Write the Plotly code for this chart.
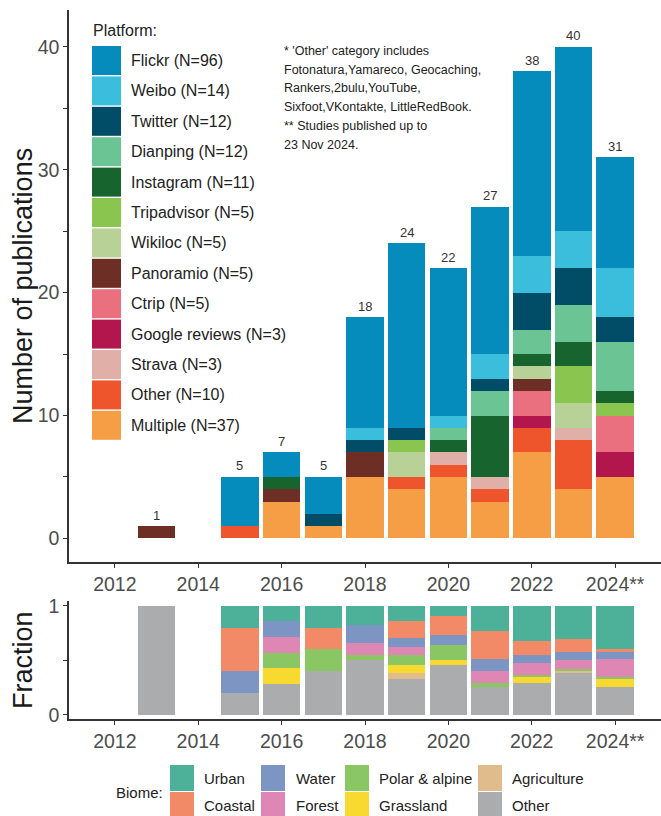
import plotly.graph_objects as go

W, H = 661, 816
FONT = "Liberation Sans, Arial, Helvetica, sans-serif"

# ---------------- data ----------------
years = [2012, 2013, 2014, 2015, 2016, 2017, 2018, 2019, 2020, 2021, 2022, 2023, 2024]
tick_years = [2012, 2014, 2016, 2018, 2020, 2022, 2024]
tick_labels = ["2012", "2014", "2016", "2018", "2020", "2022", "2024**"]

# publications per platform and year (2012..2024)
flickr      = [0, 0, 0, 4, 2, 3, 9, 15, 12, 12, 15, 15, 9]
weibo       = [0, 0, 0, 0, 0, 0, 1, 0, 1, 2, 3, 3, 4]
twitter     = [0, 0, 0, 0, 0, 1, 1, 1, 0, 1, 3, 3, 2]
dianping    = [0, 0, 0, 0, 0, 0, 0, 0, 1, 2, 2, 3, 4]
instagram   = [0, 0, 0, 0, 1, 0, 0, 0, 1, 5, 1, 2, 1]
tripadvisor = [0, 0, 0, 0, 0, 0, 0, 1, 0, 0, 0, 3, 1]
wikiloc     = [0, 0, 0, 0, 0, 0, 0, 2, 0, 0, 1, 2, 0]
panoramio   = [0, 1, 0, 0, 1, 0, 2, 0, 0, 0, 1, 0, 0]
ctrip       = [0, 0, 0, 0, 0, 0, 0, 0, 0, 0, 2, 0, 3]
google_rev  = [0, 0, 0, 0, 0, 0, 0, 0, 0, 0, 1, 0, 2]
strava      = [0, 0, 0, 0, 0, 0, 0, 0, 1, 1, 0, 1, 0]
other_pf    = [0, 0, 0, 1, 0, 0, 0, 1, 1, 1, 2, 4, 0]
multiple    = [0, 0, 0, 0, 3, 1, 5, 4, 5, 3, 7, 4, 5]

platform_names = ["Flickr (N=96)", "Weibo (N=14)", "Twitter (N=12)", "Dianping (N=12)",
                  "Instagram (N=11)", "Tripadvisor (N=5)", "Wikiloc (N=5)", "Panoramio (N=5)",
                  "Ctrip (N=5)", "Google reviews (N=3)", "Strava (N=3)", "Other (N=10)",
                  "Multiple (N=37)"]
platform_values = [flickr, weibo, twitter, dianping, instagram, tripadvisor, wikiloc,
                   panoramio, ctrip, google_rev, strava, other_pf, multiple]
platform_colors = ["#068CBC", "#3ABEDC", "#014D67", "#6BC494", "#17642E", "#8AC54F",
                   "#B8D197", "#6C2E25", "#EA6F7F", "#B3164D", "#E0B0A8", "#EE552D",
                   "#F59E45"]

# biome fractions per year (2012..2024)
urban       = [0, 0, 0, 0.20, 0.143, 0.20, 0.175, 0.14, 0.09, 0.23, 0.32, 0.305, 0.395]
coastal     = [0, 0, 0, 0.40, 0.0, 0.20, 0.0, 0.155, 0.18, 0.26, 0.13, 0.12, 0.025]
water       = [0, 0, 0, 0.20, 0.143, 0.0, 0.165, 0.08, 0.09, 0.11, 0.075, 0.075, 0.065]
forest      = [0, 0, 0, 0.0, 0.143, 0.0, 0.11, 0.08, 0.0, 0.11, 0.11, 0.08, 0.165]
polar       = [0, 0, 0, 0.0, 0.143, 0.20, 0.05, 0.085, 0.14, 0.03, 0.02, 0.02, 0.025]
grassland   = [0, 0, 0, 0.0, 0.142, 0.0, 0.0, 0.08, 0.045, 0.0, 0.055, 0.0, 0.065]
agriculture = [0, 0, 0, 0.0, 0.0, 0.0, 0.0, 0.05, 0.0, 0.0, 0.0, 0.02, 0.0]
other_bio   = [0, 1.0, 0, 0.20, 0.286, 0.40, 0.50, 0.33, 0.455, 0.26, 0.29, 0.38, 0.26]

biome_names = ["Urban", "Coastal", "Water", "Forest", "Polar & alpine", "Grassland",
               "Agriculture", "Other"]
biome_values = [urban, coastal, water, forest, polar, grassland, agriculture, other_bio]
biome_colors = ["#4DB098", "#F28A68", "#7C95C2", "#DE87B5", "#8AC663", "#F8D92F",
                "#E0BC8C", "#ABACAE"]

note_lines = ["* 'Other' category includes",
              "Fotonatura,Yamareco, Geocaching,",
              "Rankers,2bulu,YouTube,",
              "Sixfoot,VKontakte, LittleRedBook.",
              "** Studies published up to",
              "23 Nov 2024."]

# ---------------- figure ----------------
fig = go.Figure()

# top: stacked counts (bottom of stack = last legend entry)
for name, vals, col in reversed(list(zip(platform_names, platform_values, platform_colors))):
    fig.add_trace(go.Bar(x=years, y=vals, name=name, marker_color=col,
                         marker_line_width=0, width=0.9, showlegend=False,
                         xaxis="x", yaxis="y"))

# bottom: biome fractions (bottom of stack = Other)
for name, vals, col in reversed(list(zip(biome_names, biome_values, biome_colors))):
    fig.add_trace(go.Bar(x=years, y=vals, name=name, marker_color=col,
                         marker_line_width=0, width=0.9, showlegend=False,
                         xaxis="x2", yaxis="y2"))

totals = [sum(v[i] for v in platform_values) for i in range(len(years))]


def px(x):
    return x / W


def py(y):
    return 1 - y / H


axis_common = dict(showline=True, linecolor="#333333", linewidth=1.5, ticks="outside",
                   ticklen=4, tickwidth=1.3, tickcolor="#333333", showgrid=False,
                   zeroline=False, automargin=False,
                   tickfont=dict(size=19.5, color="#4D4D4D", family=FONT))

TOP_T, TOP_B = 10, 562
BOT_T, BOT_B = 601, 719
x_range = [2010.9, 2025.1]
fig.update_layout(
    width=W, height=H, margin=dict(l=0, r=0, t=0, b=0, pad=0, autoexpand=False),
    plot_bgcolor="white", paper_bgcolor="white", barmode="stack", showlegend=False,
    font=dict(family=FONT),
    xaxis=dict(domain=[px(69), 1], range=x_range, tickvals=tick_years,
               ticktext=tick_labels, anchor="y", **axis_common),
    yaxis=dict(domain=[py(TOP_B), py(TOP_T)], range=[-1.92, 43.0],
               tickvals=[0, 5, 10, 15, 20, 25, 30, 35, 40],
               ticktext=["0", "", "10", "", "20", "", "30", "", "40"],
               anchor="x", **axis_common),
    xaxis2=dict(domain=[px(69), 1], range=x_range, tickvals=tick_years,
                ticktext=tick_labels, anchor="y2", **axis_common),
    yaxis2=dict(domain=[py(BOT_B), py(BOT_T)], range=[-0.037, 1.043],
                tickvals=[0, 0.5, 1], ticktext=["0", "", "1"], anchor="x2",
                **axis_common),
)

shapes = []
annotations = []

# bar total labels
for yr, t in zip(years, totals):
    if t > 0:
        annotations.append(dict(x=yr, y=t, xref="x", yref="y", text=str(t),
                                showarrow=False, xanchor="center", yanchor="middle",
                                yshift=11,
                                font=dict(size=13, color="#333333", family=FONT)))

# axis titles
annotations.append(dict(x=px(23), y=py((TOP_T + TOP_B) / 2), xref="paper", yref="paper",
                        text="Number of publications", textangle=-90, showarrow=False,
                        xanchor="center", yanchor="middle",
                        font=dict(size=27, color="#1A1A1A", family=FONT)))
annotations.append(dict(x=px(23), y=py((BOT_T + BOT_B) / 2), xref="paper", yref="paper",
                        text="Fraction", textangle=-90, showarrow=False,
                        xanchor="center", yanchor="middle",
                        font=dict(size=27, color="#1A1A1A", family=FONT)))

# platform legend (manual, ggplot-style keys)
annotations.append(dict(x=px(91), y=py(31), xref="paper", yref="paper", text="Platform:",
                        showarrow=False, xanchor="left", yanchor="middle",
                        font=dict(size=16, color="#222222", family=FONT)))
for i, (name, col) in enumerate(zip(platform_names, platform_colors)):
    top = 46 + i * 30.4
    shapes.append(dict(type="rect", xref="paper", yref="paper", x0=px(92), x1=px(121),
                       y0=py(top + 29), y1=py(top), fillcolor=col, line=dict(width=0)))
    annotations.append(dict(x=px(129), y=py(top + 14.5), xref="paper", yref="paper",
                            text=name, showarrow=False, xanchor="left", yanchor="middle",
                            font=dict(size=16, color="#222222", family=FONT)))

# note text
for i, line in enumerate(note_lines):
    annotations.append(dict(x=px(282), y=py(51 + i * 18.7), xref="paper", yref="paper",
                            text=line, showarrow=False, xanchor="left", yanchor="middle",
                            font=dict(size=12.5, color="#222222", family=FONT)))

# biome legend
annotations.append(dict(x=px(114), y=py(792), xref="paper", yref="paper", text="Biome:",
                        showarrow=False, xanchor="left", yanchor="middle",
                        font=dict(size=15, color="#222222", family=FONT)))
key_x = [170, 261, 345, 478]
lab_x = [202, 294, 377, 510]
for i, (name, col) in enumerate(zip(biome_names, biome_colors)):
    c, r = i // 2, i % 2
    top = 765 + r * 27
    shapes.append(dict(type="rect", xref="paper", yref="paper", x0=px(key_x[c]),
                       x1=px(key_x[c] + 24), y0=py(min(top + 26, H)), y1=py(top),
                       fillcolor=col, line=dict(width=0)))
    annotations.append(dict(x=px(lab_x[c]), y=py(top + 13), xref="paper", yref="paper",
                            text=name, showarrow=False, xanchor="left", yanchor="middle",
                            font=dict(size=15, color="#222222", family=FONT)))

fig.update_layout(shapes=shapes, annotations=annotations)
fig.write_html("out.html")
